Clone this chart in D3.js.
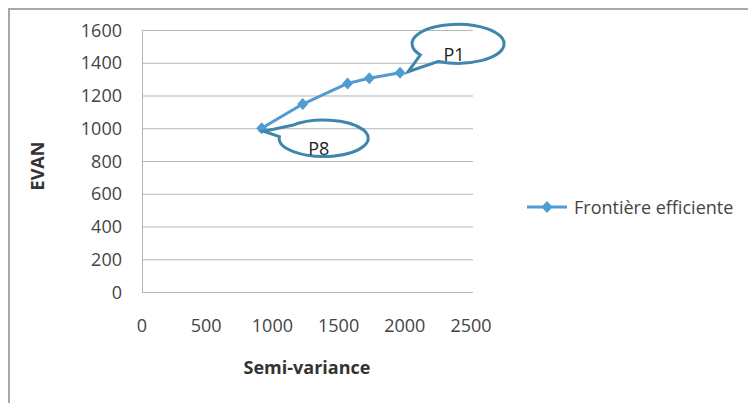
<!DOCTYPE html>
<html lang="fr">
<head>
<meta charset="utf-8">
<script src="https://cdn.jsdelivr.net/npm/d3@7"></script>
<style>
  body { margin: 0; background: #fff; }
  text { font-family: "Open Sans", Lato, sans-serif; }
</style>
</head>
<body>
<div id="chart"></div>
<script>
// data
var semiVariance = [904, 1214, 1553, 1717, 1949];
var evan = [1000, 1148, 1274, 1305, 1339];
var xTicks = [0, 500, 1000, 1500, 2000, 2500];
var yTicks = [0, 200, 400, 600, 800, 1000, 1200, 1400, 1600];
var seriesName = "Frontière efficiente";
var calloutLabels = ["P1", "P8"];

var W = 748, H = 403;
var blue = "#4f9bd2", callBlue = "#3f86ad";

var svg = d3.select("#chart").append("svg")
  .attr("width", W).attr("height", H);

// chart border
svg.append("rect")
  .attr("x", 9).attr("y", 9).attr("width", W + 10).attr("height", H + 10)
  .attr("fill", "#fff").attr("stroke", "#a8a8a8").attr("stroke-width", 2);

var x = d3.scaleLinear().domain([0, 2500]).range([142, 473]);
var y = d3.scaleLinear().domain([0, 1600]).range([292, 30]);

// gridlines
svg.selectAll(".grid").data(yTicks).enter().append("line")
  .attr("x1", x(0)).attr("x2", x(2500))
  .attr("y1", function(d){return y(d)+0.5;}).attr("y2", function(d){return y(d)+0.5;})
  .attr("stroke", "#b5b5b5").attr("stroke-width", 1);
svg.append("line")
  .attr("x1", x(0)+0.5).attr("x2", x(0)+0.5).attr("y1", y(1600)).attr("y2", y(0))
  .attr("stroke", "#b5b5b5");

// tick labels
svg.selectAll(".ylab").data(yTicks).enter().append("text")
  .attr("x", 122).attr("y", function(d){return y(d)+6.5;})
  .attr("text-anchor", "end").attr("font-size", 18).attr("fill", "#444")
  .text(function(d){return d;});
svg.selectAll(".xlab").data(xTicks).enter().append("text")
  .attr("x", function(d){return x(d)+ (d===0?0:-2);}).attr("y", 332)
  .attr("text-anchor", "middle").attr("font-size", 18).attr("fill", "#444")
  .text(function(d){return d;});

// axis titles
svg.append("text")
  .attr("transform", "translate(44,166) rotate(-90)")
  .attr("text-anchor", "middle").attr("font-size", 18).attr("font-weight", "bold").attr("fill", "#333")
  .text("EVAN");
svg.append("text")
  .attr("x", 307).attr("y", 374)
  .attr("text-anchor", "middle").attr("font-size", 18).attr("font-weight", "bold").attr("fill", "#333")
  .text("Semi-variance");

// series
var pts = semiVariance.map(function(v, i){return [v, evan[i]];});
var line = d3.line().x(function(d){return x(d[0]);}).y(function(d){return y(d[1]);});
svg.append("path").datum(pts).attr("d", line)
  .attr("fill", "none").attr("stroke", blue).attr("stroke-width", 3).attr("stroke-linejoin", "round");

var diamond = "M0,-6L5.5,0L0,6L-5.5,0Z";
svg.selectAll(".mk").data(pts).enter().append("path")
  .attr("d", diamond)
  .attr("transform", function(d){return "translate(" + x(d[0]) + "," + y(d[1]) + ")";})
  .attr("fill", blue);

// callouts
function callout(px, py, cx, cy, rx, ry, a1, a2, sweep, label, tx, ty) {
  var rad = Math.PI / 180;
  var A = [cx + rx*Math.cos(a1*rad), cy + ry*Math.sin(a1*rad)];
  var B = [cx + rx*Math.cos(a2*rad), cy + ry*Math.sin(a2*rad)];
  var d = "M" + A + "L" + px + "," + py + "L" + B +
    "A" + rx + "," + ry + " 0 1," + sweep + " " + A + "Z";
  svg.append("path").attr("d", d)
    .attr("fill", "none").attr("stroke", callBlue).attr("stroke-width", 3);
  svg.append("text").attr("x", tx).attr("y", ty)
    .attr("text-anchor", "middle").attr("font-size", 18).attr("fill", "#222")
    .text(label);
}
var p1 = pts[pts.length - 1], p8 = pts[0];
callout(x(p1[0]) + 8, y(p1[1]) - 1, x(p1[0]) + 58, y(p1[1]) - 29, 46, 19.5, 145, 115, 0,
        calloutLabels[0], x(p1[0]) + 54, y(p1[1]) - 12);
callout(x(p8[0]) + 2, y(p8[1]) + 3, x(p8[0]) + 62, y(p8[1]) + 10, 44.5, 18.3, 185, 225, 1,
        calloutLabels[1], x(p8[0]) + 57, y(p8[1]) + 27);

// legend
var lg = svg.append("g").attr("transform", "translate(527,207)");
lg.append("line").attr("x1", 0).attr("x2", 40).attr("y1", 0).attr("y2", 0)
  .attr("stroke", blue).attr("stroke-width", 3);
lg.append("path").attr("d", diamond).attr("transform", "translate(20,0)").attr("fill", blue);
lg.append("text").attr("x", 47).attr("y", 7).attr("font-size", 18).attr("fill", "#444")
  .text(seriesName);
</script>
</body>
</html>
